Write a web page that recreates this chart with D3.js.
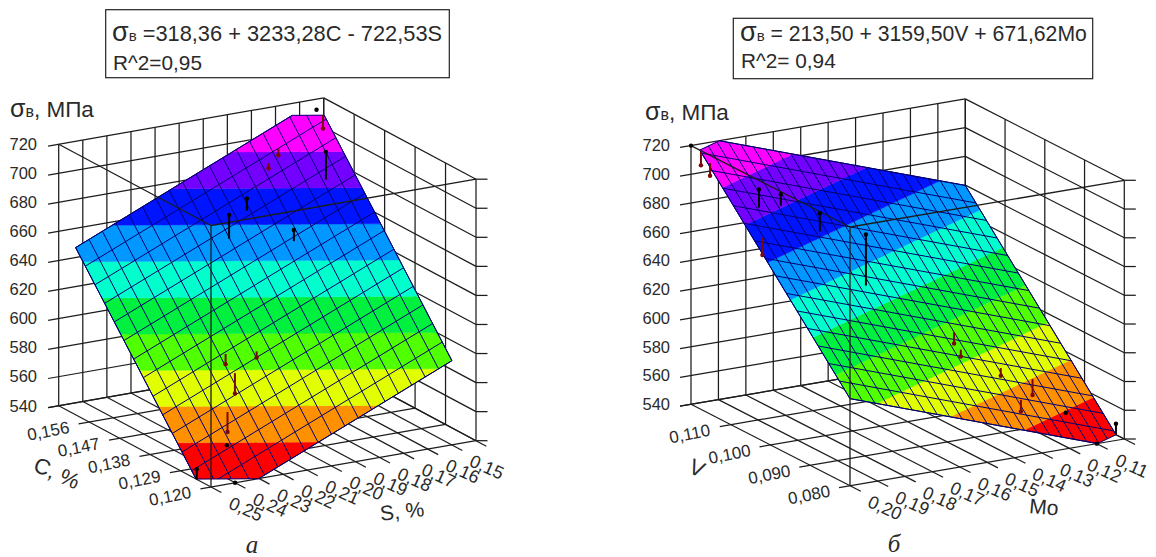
<!DOCTYPE html>
<html><head><meta charset="utf-8">
<script src="https://cdn.jsdelivr.net/npm/d3@7/dist/d3.min.js"></script>
<style>html,body{margin:0;padding:0;background:#fff}svg{display:block}text{font-family:"Liberation Sans",Arial,sans-serif;fill:#2a2a2a}</style>
</head><body><svg id="c" width="1156" height="557"></svg>
<script>
// shared value axis and colour bands
const sigmaTicks = [540,560,580,600,620,640,660,680,700,720];
const bandEdges  = [540,558,576,594,612,630,648,666,684,702,720];
const bandColors = ["#ff0000","#ff9000","#e2ff00","#50ff00","#00f040","#00ffcc","#0098ff","#0014ff","#7400ff","#ff00ff"];

// panel a
const fitA = [318.36,3233.28,-722.53];
const cTicks = [0.120,0.129,0.138,0.147,0.156,0.165];
const cLabels = ["0,120","0,129","0,138","0,147","0,156",""];
const sTicks = [0.25,0.24,0.23,0.22,0.21,0.20,0.19,0.18,0.17,0.16,0.15,0.14];
const sLabels = ["0,25","0,24","0,23","0,22","0,21","0,20","0,19","0,18","0,17","0,16","0,15",""];
const surfC = [0.12,0.16];
const surfS = [0.25,0.15];
const ptsAC = [.160,.1579,.1571,.1561,.1501,.1521,.1501,.1452,.1369,.135,.134,.130,.126,.1242,.12];
const ptsAS = [.150,.1503,.1699,.1754,.16,.19,.2002,.1802,.2202,.21,.2204,.2291,.235,.25,.24];
const ptsASigma = [721,710.8,699,692.9,707.2,681.3,675.4,665.3,594.9,598.9,578.4,559.4,557,547,540];
const ptsAAbove = [1,0,0,0,1,1,1,1,0,0,0,0,1,1,1];

// panel b
const fitB = [213.50,3159.50,671.62];
const vTicks = [0.08,0.09,0.10,0.11,0.12];
const vLabels = ["0,080","0,090","0,100","0,110",""];
const moTicks = [0.20,0.19,0.18,0.17,0.16,0.15,0.14,0.13,0.12,0.11,0.10];
const moLabels = ["0,20","0,19","0,18","0,17","0,16","0,15","0,14","0,13","0,12","0,11",""];
const surfV = [0.08,0.12];
const surfMo = [0.20,0.10];
const ptsBV = [.12,.1175,.1159,.1098,.1108,.1076,.1048,.0998,.0946,.0918,.0899,.089,.0851,.0841,.0821,.08];
const ptsBMo = [.20,.20,.199,.19,.1806,.171,.196,.1655,.1409,.1425,.1307,.1204,.1303,.1154,.10,.11];
const ptsBSigma = [720,709.8,704.5,700.7,692.9,681.1,664.1,675.5,599.1,594.5,579.9,564.5,561.7,557.5,547.7,540];
const ptsBAbove = [1,0,0,1,1,1,0,1,0,0,0,0,0,1,1,1];

const svg = d3.select("#c");
const INK="#1c1c1c", MESH="#00006e", BELOW="#7a0808";

function panel(o){
  const g=svg.append("g");
  const sa=d3.scaleLinear().domain([o.aTicks[0],o.aTicks[o.aTicks.length-1]]).range([0,1]);
  const sb=d3.scaleLinear().domain([o.bTicks[0],o.bTicks[o.bTicks.length-1]]).range([0,1]);
  const sz=d3.scaleLinear().domain([sigmaTicks[0],sigmaTicks[sigmaTicks.length-1]]).range([0,1]);
  const A=[o.left[0]-o.front[0],o.left[1]-o.front[1]], B=[o.right[0]-o.front[0],o.right[1]-o.front[1]];
  const fr=(u,v,w)=>[o.front[0]+u*A[0]+v*B[0], o.front[1]+u*A[1]+v*B[1]-w*o.height];
  const P=(a,b,z)=>fr(sa(a),sb(b),sz(z));
  const seg=(p,q,w,c)=>g.append("line").attr("x1",p[0]).attr("y1",p[1]).attr("x2",q[0]).attr("y2",q[1]).attr("stroke",c||INK).attr("stroke-width",w||1.25);
  const a0=o.aTicks[0],a1=o.aTicks[o.aTicks.length-1],b0=o.bTicks[0],b1=o.bTicks[o.bTicks.length-1];
  const z0=sigmaTicks[0],z1=sigmaTicks[sigmaTicks.length-1];
  // walls + floor
  o.bTicks.forEach(t=>{ seg(P(a1,t,z0),P(a1,t,z1)); seg(fr(-0.068,sb(t),0),P(a1,t,z0)); });
  o.aTicks.forEach(t=>{ seg(P(t,b1,z0),P(t,b1,z1)); seg(fr(sa(t),-0.04,0),P(t,b1,z0)); });
  sigmaTicks.forEach(z=>{
    seg(fr(1,-0.04,sz(z)),P(a1,b1,z));
    seg(P(a0,b1,z),P(a1,b1,z));
    const r=P(a0,b1,z); seg(r,[r[0]+o.rightTick,r[1]]);
  });
  // surface
  const fit=(a,b)=>o.fit[0]+o.fit[1]*a+o.fit[2]*b;
  const corners=[[o.surfA[0],o.surfB[0]],[o.surfA[1],o.surfB[0]],[o.surfA[1],o.surfB[1]],[o.surfA[0],o.surfB[1]]];
  const clip=(poly,lev,up)=>{
    const out=[];
    poly.forEach((p,i)=>{
      const q=poly[(i+1)%poly.length],fp=fit(p[0],p[1])-lev,fq=fit(q[0],q[1])-lev;
      const ip=up?fp>=0:fp<=0, iq=up?fq>=0:fq<=0;
      if(ip) out.push(p);
      if(ip!==iq){const t=fp/(fp-fq); out.push([p[0]+t*(q[0]-p[0]),p[1]+t*(q[1]-p[1])]);}
    });
    return out;
  };
  const line=d3.line();
  const toPath=poly=>line(poly.map(p=>P(p[0],p[1],fit(p[0],p[1]))))+"Z";
  bandColors.forEach((col,i)=>{
    const poly=clip(clip(corners,bandEdges[i],true),bandEdges[i+1],false);
    if(poly.length>2) g.append("path").attr("d",toPath(poly)).attr("fill",col).attr("stroke",col).attr("stroke-width",.4);
  });
  // mesh
  const ma=d3.scaleLinear().domain([0,o.meshA]).range(o.surfA), mb=d3.scaleLinear().domain([0,o.meshB]).range(o.surfB);
  const meshLine=(p,q)=>{
    const fp=fit(p[0],p[1]), fq=fit(q[0],q[1]);
    const t0=(z0-fp)/(fq-fp), t1=(z1-fp)/(fq-fp);
    const lo=Math.max(0,Math.min(t0,t1)), hi=Math.min(1,Math.max(t0,t1));
    if(hi<=lo) return;
    const at=t=>{const x=p[0]+t*(q[0]-p[0]),y=p[1]+t*(q[1]-p[1]);return P(x,y,fit(x,y));};
    seg(at(lo),at(hi),1,MESH);
  };
  d3.range(o.meshA+1).forEach(i=>meshLine([ma(i),o.surfB[0]],[ma(i),o.surfB[1]]));
  d3.range(o.meshB+1).forEach(i=>meshLine([o.surfA[0],mb(i)],[o.surfA[1],mb(i)]));
  const whole=clip(clip(corners,z0,true),z1,false);
  g.append("path").attr("d",toPath(whole)).attr("fill","none").attr("stroke",MESH).attr("stroke-width",1);
  // front box edges over the surface
  seg(P(a1,b0,z1),P(a0,b0,z1),1.3);
  seg(P(a0,b0,z1),P(a0,b1,z1),1.3);
  seg(P(a0,b0,z0),P(a0,b0,z1),1.3);
  // observations
  o.ptsA.forEach((a,i)=>{
    const b=o.ptsB[i], z=o.ptsZ[i], col=o.above[i]?"#000":BELOW;
    const foot=Math.max(z0,Math.min(z1,fit(a,b)));
    seg(P(a,b,z),P(a,b,foot),2,col);
    const d=P(a,b,z);
    g.append("circle").attr("cx",d[0]).attr("cy",d[1]).attr("r",2.2).attr("fill",col);
  });
  // value tick labels
  sigmaTicks.forEach(z=>{
    const p=fr(1,0,sz(z));
    g.append("text").attr("x",o.zLabelX).attr("y",p[1]+5.8).attr("text-anchor","end").attr("font-size",16.5).text(z);
  });
  const rot=(x,y,ang,txt,fs)=>g.append("text").attr("transform",`translate(${x},${y}) rotate(${ang})`).attr("text-anchor","middle").attr("dy","0.35em").attr("font-size",fs).text(txt);
  o.aTicks.forEach((t,i)=>{ if(o.aLabels[i]){const p=P(t,b0,z0); rot(p[0]-41,p[1]+9,-11,o.aLabels[i],17);} });
  o.bTicks.forEach((t,i)=>{ if(o.bLabels[i]){const p=P(a0,t,z0); rot(p[0]+35,p[1]+22,24,o.bLabels[i],18);} });
  rot(o.aTitle[0],o.aTitle[1],o.aTitle[2],o.aTitle[3],22);
  rot(o.bTitle[0],o.bTitle[1],o.bTitle[2],o.bTitle[3],21);
  // unit title
  const ut=g.append("text").attr("x",o.unit[0]).attr("y",o.unit[1]).attr("font-size",22.5);
  ut.append("tspan").attr("font-size",25).text("σ"); ut.append("tspan").attr("font-size",16).text("в"); ut.append("tspan").text(", МПа");
  // equation box
  g.append("rect").attr("x",o.box[0]).attr("y",o.box[1]).attr("width",o.box[2]).attr("height",o.box[3]).attr("fill","#fff").attr("stroke","#222").attr("stroke-width",1.2);
  const e=g.append("text").attr("x",o.eq[0]).attr("y",o.eq[1]).attr("font-size",o.eqSize);
  e.append("tspan").attr("font-size",27).text("σ"); e.append("tspan").attr("font-size",15).text("в"); e.append("tspan").text(o.eqText);
  g.append("text").attr("x",o.eq[0]+1).attr("y",o.eq[2]).attr("font-size",20.8).text(o.r2);
  g.append("text").attr("x",o.cap[0]).attr("y",o.cap[1]).attr("text-anchor","middle").attr("font-size",25).attr("font-style","italic").style("font-family","'Liberation Serif',serif").text(o.cap[2]);
}

panel({front:[211,487],left:[58.7,405.7],right:[476,440.7],height:261.5,rightTick:11.5,zLabelX:37,
  fit:fitA,aTicks:cTicks,aLabels:cLabels,bTicks:sTicks,bLabels:sLabels,surfA:surfC,surfB:surfS,meshA:14,meshB:18,
  ptsA:ptsAC,ptsB:ptsAS,ptsZ:ptsASigma,above:ptsAAbove,
  aTitle:[57,473,24,"C,  %"],bTitle:[402,511,-6,"S, %"],unit:[10,117],
  box:[105.7,9.7,343.6,68],eq:[112,40.5,70],eqSize:21.8,eqText:" =318,36 + 3233,28C - 722,53S",r2:"R^2=0,95",cap:[252,553,"а"]});
panel({front:[850,485.7],left:[691,404.3],right:[1124.3,439],height:258.7,rightTick:11.5,zLabelX:670,
  fit:fitB,aTicks:vTicks,aLabels:vLabels,bTicks:moTicks,bLabels:moLabels,surfA:surfV,surfB:surfMo,meshA:15,meshB:22,
  ptsA:ptsBV,ptsB:ptsBMo,ptsZ:ptsBSigma,above:ptsBAbove,
  aTitle:[697,468,24,"V"],bTitle:[1044,507,5,"Mo"],unit:[645,120],
  box:[733.3,18.3,359.4,60.4],eq:[740,40.5,68],eqSize:21.2,eqText:" = 213,50 + 3159,50V + 671,62Mo",r2:"R^2= 0,94",cap:[894,552,"б"]});
</script></body></html>
